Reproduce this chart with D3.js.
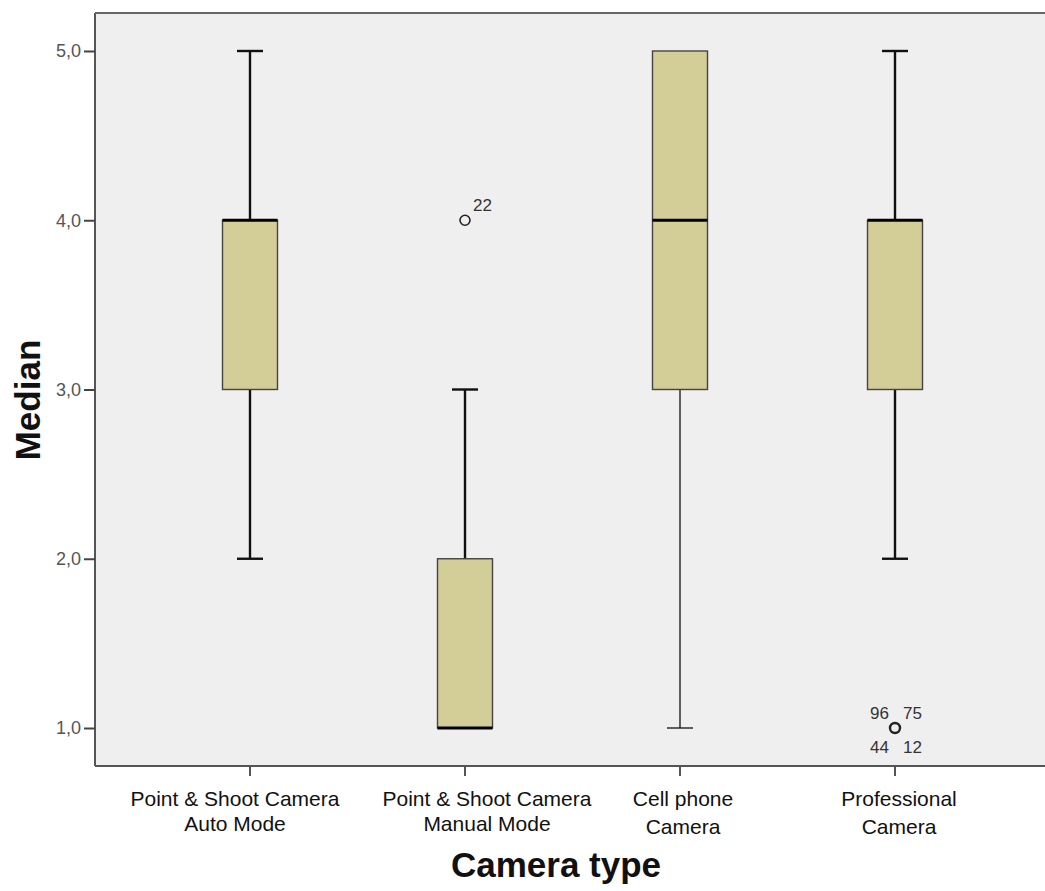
<!DOCTYPE html>
<html><head><meta charset="utf-8">
<script src="https://cdn.jsdelivr.net/npm/d3@7"></script>
<style>body{margin:0;background:#fff;}svg{display:block;font-family:"Liberation Sans",Arial,sans-serif;}</style>
</head><body>
<svg id="c" width="1045" height="891"></svg>
<script>
const categories = [["Point & Shoot Camera","Auto Mode"],["Point & Shoot Camera","Manual Mode"],["Cell phone","Camera"],["Professional","Camera"]];
const q1 = [3, 1, 3, 3];
const medians = [4, 1, 4, 4];
const q3 = [4, 2, 5, 4];
const whiskerLow = [2, 1, 1, 2];
const whiskerHigh = [5, 3, 5, 5];
const whiskerThick = [true, true, false, true];
const outliers = [
  {cat: 1, value: 4, labels: [{t:"22", pos:"ur"}]},
  {cat: 3, value: 1, labels: [{t:"96", pos:"ul"},{t:"75", pos:"ur"},{t:"44", pos:"ll"},{t:"12", pos:"lr"}]}
];
const yTicks = [1, 2, 3, 4, 5];
const yTickLabels = ["1,0","2,0","3,0","4,0","5,0"];

(function(){
const svg = d3.select("#c");
const pLeft = 95, pTop = 13, pBottom = 766, pRight = 1050;
const labelShift = [-15, 22, 3, 4];
const labelGap = [25, 25, 28, 28];
const y = d3.scaleLinear().domain([0.7755, 5.2245]).range([pBottom, pTop]);
const x = d3.scaleBand().domain(d3.range(categories.length)).range([142.5, 1002.5]).padding(0);
const cx = i => x(i) + x.bandwidth()/2;
const boxW = 55, capW = 26;

svg.append("rect").attr("x", pLeft).attr("y", pTop).attr("width", pRight-pLeft).attr("height", pBottom-pTop).attr("fill", "#efefef");

const g = svg.append("g");
categories.forEach((c, i) => {
  const sw = whiskerThick[i] ? 2.4 : 1.3;
  if (whiskerLow[i] < q1[i]) {
    g.append("line").attr("x1", cx(i)).attr("x2", cx(i)).attr("y1", y(q1[i])).attr("y2", y(whiskerLow[i])).attr("stroke", "#111").attr("stroke-width", sw);
    g.append("line").attr("x1", cx(i)-capW/2).attr("x2", cx(i)+capW/2).attr("y1", y(whiskerLow[i])).attr("y2", y(whiskerLow[i])).attr("stroke", "#111").attr("stroke-width", sw);
  }
  if (whiskerHigh[i] > q3[i]) {
    g.append("line").attr("x1", cx(i)).attr("x2", cx(i)).attr("y1", y(q3[i])).attr("y2", y(whiskerHigh[i])).attr("stroke", "#111").attr("stroke-width", sw);
    g.append("line").attr("x1", cx(i)-capW/2).attr("x2", cx(i)+capW/2).attr("y1", y(whiskerHigh[i])).attr("y2", y(whiskerHigh[i])).attr("stroke", "#111").attr("stroke-width", sw);
  }
  g.append("rect").attr("x", cx(i)-boxW/2).attr("y", y(q3[i])).attr("width", boxW).attr("height", y(q1[i]) - y(q3[i]))
    .attr("fill", "#d3ce97").attr("stroke", "#444").attr("stroke-width", 1.4);
  g.append("line").attr("x1", cx(i)-boxW/2).attr("x2", cx(i)+boxW/2).attr("y1", y(medians[i])).attr("y2", y(medians[i])).attr("stroke", "#000").attr("stroke-width", 3);
});

outliers.forEach(o => {
  const px = cx(o.cat), py = y(o.value);
  g.append("circle").attr("cx", px).attr("cy", py).attr("r", 5).attr("fill", "none").attr("stroke", "#222").attr("stroke-width", o.labels.length > 1 ? 2.4 : 1.6);
  o.labels.forEach(l => {
    const dx = l.pos[1] === "r" ? 8 : -6;
    const dy = l.pos[0] === "u" ? -9 : 25;
    g.append("text").attr("x", px + dx).attr("y", py + dy)
      .attr("text-anchor", l.pos[1] === "r" ? "start" : "end")
      .attr("font-size", 17).attr("fill", "#333").text(l.t);
  });
});

svg.append("line").attr("x1", pLeft).attr("x2", pLeft).attr("y1", pTop).attr("y2", pBottom).attr("stroke", "#555").attr("stroke-width", 2);
svg.append("line").attr("x1", pLeft).attr("x2", pRight).attr("y1", pBottom).attr("y2", pBottom).attr("stroke", "#555").attr("stroke-width", 2);
svg.append("line").attr("x1", pLeft).attr("x2", pRight).attr("y1", pTop).attr("y2", pTop).attr("stroke", "#666").attr("stroke-width", 2);

const yAxis = d3.axisLeft(y).tickValues(yTicks).tickFormat((d,i) => yTickLabels[i]).tickSize(11).tickPadding(3);
const ya = svg.append("g").attr("transform", `translate(${pLeft},0)`).call(yAxis);
ya.select(".domain").remove();
ya.selectAll(".tick line").attr("stroke", "#444").attr("stroke-width", 2);
ya.selectAll(".tick text").attr("font-size", 18).attr("fill", "#555").attr("font-family", "Liberation Sans, Arial, sans-serif");

const xa = svg.append("g").attr("transform", `translate(0,${pBottom})`);
categories.forEach((c, i) => {
  xa.append("line").attr("x1", cx(i)).attr("x2", cx(i)).attr("y1", 0).attr("y2", 10).attr("stroke", "#555").attr("stroke-width", 2);
  c.forEach((line, j) => {
    xa.append("text").attr("x", cx(i) + labelShift[i]).attr("y", 40 + j*labelGap[i]).attr("text-anchor", "middle").attr("font-size", 21).attr("fill", "#111").text(line);
  });
});

svg.append("text").attr("x", 556).attr("y", 877).attr("text-anchor", "middle").attr("font-size", 35).attr("font-weight", "bold").attr("fill", "#111").text("Camera type");
svg.append("text").attr("transform", "translate(40,400) rotate(-90)").attr("text-anchor", "middle").attr("font-size", 35).attr("font-weight", "bold").attr("fill", "#111").text("Median");
})();
</script>
</body></html>
